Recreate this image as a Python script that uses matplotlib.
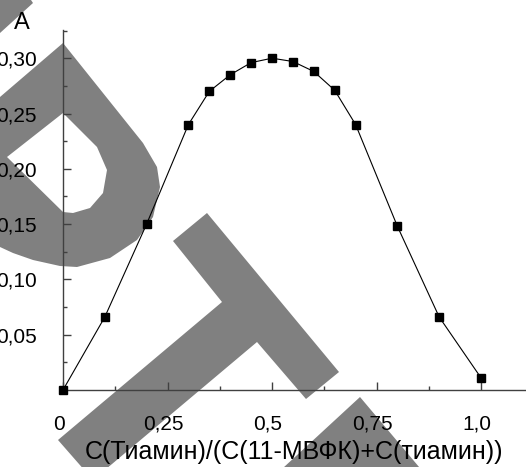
import numpy as np
import matplotlib
matplotlib.use("Agg")
import matplotlib.pyplot as plt
from matplotlib.patches import Polygon
from matplotlib.ticker import MultipleLocator, FixedLocator, FixedFormatter
import matplotlib.transforms as mtransforms

plt.rcParams['font.family'] = ['Liberation Sans', 'DejaVu Sans']

# mole fraction of thiamine and absorbance
x_frac = [0, 0.1, 0.2, 0.3, 0.35, 0.4, 0.45, 0.5, 0.55, 0.6, 0.65, 0.7, 0.8, 0.9, 1.0]
absorb = [0.0, 0.066, 0.150, 0.240, 0.270, 0.285, 0.296, 0.300, 0.297, 0.288, 0.271, 0.240, 0.148, 0.066, 0.011]

x_ticks = [0, 0.25, 0.5, 0.75, 1.0]
x_ticklabels = ["0", "0,25", "0,5", "0,75", "1,0"]
y_ticks = [0.05, 0.10, 0.15, 0.20, 0.25, 0.30]
y_ticklabels = ["0,05", "0,10", "0,15", "0,20", "0,25", "0,30"]

W, H = 526, 467
fig = plt.figure(figsize=(W / 100, H / 100), dpi=100)


def px(pts):
    return [(a / W, 1 - b / H) for a, b in pts]


# grey background lettering
grey = "#808080"
shapes = [
    [(0, 0), (31, 0), (33, 3), (0, 33)],
    [(0, 97), (63, 43), (143, 143), (157, 167), (160, 187), (153, 217), (137, 240),
     (110, 258), (77, 267), (60, 266), (33, 260), (13, 253), (0, 247)],
    [(207, 213), (339, 372), (306, 399), (257, 342), (93, 480), (58, 440), (222, 302), (173, 241)],
    [(360, 397), (430, 480), (270, 480)],
]
for s in shapes:
    fig.patches.append(Polygon(px(s), closed=True, transform=fig.transFigure,
                               facecolor=grey, edgecolor="none", zorder=0))
hole = [(63, 113), (97, 147), (107, 170), (103, 193), (90, 208), (73, 213), (63, 212), (7, 157)]
fig.patches.append(Polygon(px(hole), closed=True, transform=fig.transFigure,
                           facecolor="white", edgecolor="none", zorder=0.5))

ax = fig.add_axes([63 / W, (H - 390) / H, (W - 63) / W, 360 / H])
ax.set_zorder(2)
ax.patch.set_visible(False)

ax.plot(x_frac, absorb, color="black", lw=0.8, marker="s", markersize=6,
        markerfacecolor="black", markeredgecolor="black", clip_on=False, zorder=3)

ax.set_xlim(0, (W - 63) / 418)
ax.set_ylim(0, 360 / 1106)

axis_col = "#404040"
for side in ["top", "right"]:
    ax.spines[side].set_visible(False)
for side in ["left", "bottom"]:
    ax.spines[side].set_color(axis_col)
    ax.spines[side].set_linewidth(1.0)

ax.xaxis.set_major_locator(FixedLocator(x_ticks))
ax.xaxis.set_major_formatter(FixedFormatter(x_ticklabels))
ax.xaxis.set_minor_locator(MultipleLocator(0.125))
ax.yaxis.set_major_locator(FixedLocator(y_ticks))
ax.yaxis.set_major_formatter(FixedFormatter(y_ticklabels))
ax.yaxis.set_minor_locator(MultipleLocator(0.025))

ax.tick_params(which="both", direction="in", color=axis_col, width=1.0, labelsize=15)
ax.tick_params(which="major", length=5.5)
ax.tick_params(which="minor", length=3)
ax.tick_params(axis="x", pad=18)
ax.tick_params(axis="y", pad=19)

shift = mtransforms.ScaledTranslation(-4 / 100, 0, fig.dpi_scale_trans)
for lab in ax.get_xticklabels():
    lab.set_transform(lab.get_transform() + shift)

ax.set_xlabel("C(Тиамин)/(C(11-МВФК)+C(тиамин))", fontsize=18)
ax.xaxis.set_label_coords(0.5, (390 - 452) / 360)
ax.xaxis.label.set_verticalalignment("center")

fig.text(22 / W, 1 - 23 / H, "A", fontsize=17, ha="center", va="center", zorder=5)

fig.savefig("out.png", dpi=100)
